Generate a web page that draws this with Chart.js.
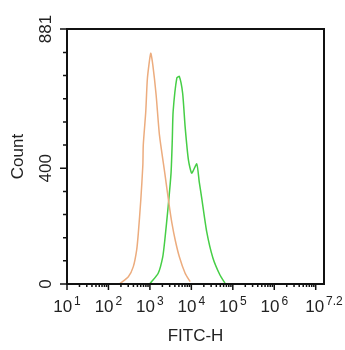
<!DOCTYPE html>
<html>
<head>
<meta charset="utf-8">
<script src="https://cdn.jsdelivr.net/npm/chart.js@4"></script>
<style>
  html, body { margin: 0; padding: 0; background: #fff; }
  #wrap { width: 345px; height: 350px; }
</style>
</head>
<body>
<div id="wrap"><canvas id="myChart"></canvas></div>
<script>
// isotype control (orange) - FITC-H intensity / count
const isoX = [191, 302, 398, 479, 525, 603, 676, 692, 794, 871, 1047, 1175, 1413, 1698, 2291, 2951, 3388, 4074, 5129, 7079, 9333];
const isoY = [2, 25, 60, 117, 175, 290, 411, 480, 595, 711, 797, 757, 653, 515, 382, 267, 211, 152, 94, 37, 8];

// stained sample (green)
const sampleX = [977, 1096, 1585, 2042, 2291, 2754, 3236, 3467, 3631, 4467, 5129, 6166, 7079, 8511, 10233, 13490, 15488, 17783, 23442, 33113, 48978, 64565];
const sampleY = [0, 8, 37, 94, 152, 267, 383, 497, 595, 712, 717, 659, 543, 428, 383, 415, 353, 297, 181, 90, 31, 3];

// axis ticks
const xTickValues = [10, 100, 1000, 10000, 100000, 1000000, 10000000, 15848932];
const xTickExp = ['1', '2', '3', '4', '5', '6', '', '7.2'];
const yTickValues = [0, 80, 160, 240, 320, 400, 480, 560, 640, 720, 800, 881];
const yTickLabels = [0, 400, 881];

const FONT = '"Liberation Sans", Arial, sans-serif';
const TEXT = '#222';

function toPoints(xs, ys) {
  return xs.map((v, i) => ({ x: v, y: ys[i] }));
}

const axisPlugin = {
  id: 'axisPlugin',
  afterDraw(chart) {
    const { ctx, chartArea: a, scales: { x, y } } = chart;
    ctx.save();
    ctx.strokeStyle = '#111';
    ctx.lineWidth = 2;
    ctx.strokeRect(a.left, a.top, a.right - a.left, a.bottom - a.top);

    ctx.lineWidth = 1.5;
    ctx.beginPath();
    // y ticks
    yTickValues.forEach(v => {
      const py = y.getPixelForValue(v);
      const len = yTickLabels.includes(v) ? 7 : 4;
      ctx.moveTo(a.left - len, py);
      ctx.lineTo(a.left, py);
    });
    // x ticks, major at decades, minor in between
    for (let k = 1; k <= 7; k++) {
      const base = Math.pow(10, k);
      const px = x.getPixelForValue(base);
      ctx.moveTo(px, a.bottom);
      ctx.lineTo(px, a.bottom + 6);
      for (let m = 2; m <= 9; m++) {
        const v = m * base;
        if (v > x.max) break;
        const pm = x.getPixelForValue(v);
        ctx.moveTo(pm, a.bottom);
        ctx.lineTo(pm, a.bottom + 3);
      }
    }
    ctx.stroke();

    ctx.fillStyle = TEXT;
    // x tick labels: 10 with superscript exponent
    xTickValues.forEach((v, i) => {
      const e = xTickExp[i];
      if (!e) return;
      const px = x.getPixelForValue(v);
      ctx.font = '17px ' + FONT;
      const wb = ctx.measureText('10').width;
      ctx.font = '12px ' + FONT;
      const we = ctx.measureText(e).width;
      const start = px - (wb + 2 + we) / 2;
      ctx.textAlign = 'left';
      ctx.textBaseline = 'alphabetic';
      ctx.font = '17px ' + FONT;
      ctx.fillText('10', start, a.bottom + 28);
      ctx.font = '12px ' + FONT;
      ctx.fillText(e, start + wb + 2, a.bottom + 21);
    });

    // y tick labels, rotated
    ctx.font = '17px ' + FONT;
    ctx.textAlign = 'center';
    ctx.textBaseline = 'middle';
    yTickLabels.forEach(v => {
      const py = y.getPixelForValue(v);
      ctx.save();
      ctx.translate(a.left - 21, py);
      ctx.rotate(-Math.PI / 2);
      ctx.fillText(String(v), 0, 0);
      ctx.restore();
    });

    // axis titles
    ctx.save();
    ctx.translate(18, (a.top + a.bottom) / 2);
    ctx.rotate(-Math.PI / 2);
    ctx.fillText('Count', 0, 0);
    ctx.restore();
    ctx.fillText('FITC-H', (a.left + a.right) / 2, a.bottom + 52);
    ctx.restore();
  }
};

const ctx = document.getElementById('myChart').getContext('2d');
const myChart = new Chart(ctx, {
  type: 'line',
  data: {
    datasets: [{
      label: 'Isotype',
      data: toPoints(isoX, isoY),
      borderColor: 'rgb(236, 172, 126)',
      borderWidth: 1.5,
      pointRadius: 0,
      fill: false,
      tension: 0.2
    }, {
      label: 'Sample',
      data: toPoints(sampleX, sampleY),
      borderColor: 'rgb(70, 206, 70)',
      borderWidth: 1.5,
      pointRadius: 0,
      fill: false,
      tension: 0.2
    }]
  },
  options: {
    responsive: true,
    maintainAspectRatio: false,
    animation: false,
    layout: { padding: { left: 67, right: 21, top: 29, bottom: 66 } },
    plugins: { legend: { display: false }, tooltip: { enabled: false } },
    scales: {
      x: { type: 'logarithmic', min: 10, max: 15848932, display: false },
      y: { type: 'linear', min: 0, max: 881, display: false }
    }
  },
  plugins: [axisPlugin]
});
</script>
</body>
</html>
